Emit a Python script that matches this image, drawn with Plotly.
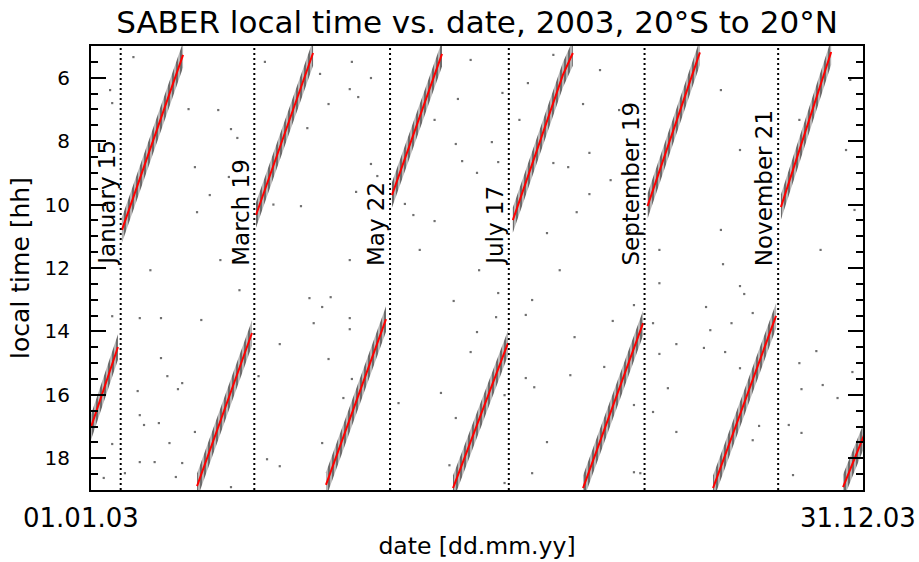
import pandas as pd
import plotly.graph_objects as go

BASE = pd.Timestamp("2003-01-01")

# ---- red traces: day offset from 1 Jan 2003, local time [h] ----
upper_days = [[14.6, 43.4], [77.8, 89.1, 104.7], [141.9, 165.5],
              [198.9, 222.5, 227.2], [262.4, 287.1], [325.3, 349.0]]
upper_lt = [[10.80, 5.28], [10.33, 8.18, 5.22], [9.70, 5.25],
            [10.49, 5.91, 5.22], [10.05, 5.20], [10.08, 5.19]]
lower_days = [[0.0, 12.7], [50.0, 75.9], [110.8, 139.1], [170.7, 196.6],
              [232.0, 260.3], [293.3, 323.0], [354.6, 364.5]]
lower_lt = [[17.02, 14.49], [18.88, 14.05], [18.84, 13.61], [18.94, 14.37],
            [18.94, 13.74], [18.94, 13.51], [18.91, 17.27]]

# ---- x-axis end labels ----
x_ends = ["2003-01-01", "2003-12-31"]
x_end_labels = ["01.01.03", "31.12.03"]

# ---- yaw-cycle marker dates ----
mark_dates = ["2003-01-15", "2003-03-19", "2003-05-22", "2003-07-17",
              "2003-09-19", "2003-11-21"]
mark_labels = ["January 15", "March 19", "May 22", "July 17",
               "September 19", "November 21"]
label_lt = 12.0

# ---- sparse outlier points ----
dot_days = [20, 9, 10, 46, 60, 66, 69, 49, 65, 56, 50, 82, 86,
            10, 23, 33, 52, 33, 36, 43, 22, 41, 23, 32, 25, 49, 37, 10, 23, 30, 43, 16, 40, 6, 66, 89, 79, 83, 89,
            123, 108, 132, 122, 126, 112, 102, 132, 135, 125, 99, 173, 162, 172, 175, 182, 148, 152, 162, 179,
            103, 113, 109, 105, 122, 122, 112, 123, 119, 109, 145,
            171, 192, 208, 191, 205, 182, 179, 205, 209, 165, 195, 172, 215, 169, 208, 195,
            218, 206, 194, 232, 202, 235, 192, 218, 225, 235, 229, 215, 189,
            268, 256, 246, 265, 228, 276, 268, 242, 226, 272, 256, 265, 276, 256, 259,
            298, 306, 308, 290, 312, 302, 292, 289, 299, 334, 306, 335, 342, 359, 345, 352, 315, 329, 335, 312, 331,
            240, 249, 245, 254, 278, 297, 306, 315, 297, 358, 356, 360, 344, 334, 268, 183, 155, 122, 61, 28, 70, 221]
dot_lt = [5.35, 6.39, 6.80, 6.99, 7.02, 7.62, 7.90, 8.82, 9.13, 9.70, 10.24, 5.50, 10.00,
          13.52, 13.58, 13.58, 13.64, 14.84, 15.41, 15.63, 15.88, 15.82, 16.64, 16.89, 16.95, 17.17, 17.52, 17.55,
          18.12, 18.12, 18.15, 18.47, 18.59, 18.62, 18.91, 14.40, 15.41, 18.03, 18.25,
          5.50, 5.88, 6.01, 6.36, 6.61, 6.83, 7.59, 8.72, 9.10, 9.60, 10.05, 6.67, 7.33, 8.09, 8.63, 9.00, 9.98,
          10.33, 10.52, 5.44,
          12.95, 12.92, 13.23, 13.74, 13.58, 13.93, 14.87, 15.50, 16.10, 17.52, 16.26,
          13.04, 12.79, 13.01, 13.55, 13.48, 14.02, 14.65, 15.47, 15.76, 15.94, 16.01, 16.73, 17.49, 18.22, 18.47, 18.78,
          5.28, 6.17, 6.48, 6.83, 7.33, 8.37, 8.66, 8.69, 8.82, 9.67, 10.24, 10.90, 8.03,
          12.48, 13.17, 13.67, 13.74, 14.18, 14.40, 14.71, 15.12, 15.38, 15.79, 16.32, 16.54, 17.17, 18.44, 18.47,
          11.88, 12.57, 12.82, 13.23, 13.42, 13.74, 13.96, 14.52, 14.65, 15.00, 15.16, 15.82, 14.62, 15.28, 15.69,
          16.10, 16.98, 16.95, 17.20, 17.43, 18.53,
          5.76, 7.02, 9.23, 10.80, 7.02, 6.39, 8.28, 9.86, 10.80, 6.07, 8.28, 10.17, 11.43, 7.33, 11.43, 12.07,
          11.43, 11.75, 11.75, 12.07, 12.70, 12.07]

FONT = "DejaVu Sans"
BAND_HALF = 0.40  # half-height of the measurement scatter band [h]


def to_dates(days):
    return [BASE + pd.Timedelta(days=float(d)) for d in days]


fig = go.Figure()

# outlier points
fig.add_trace(go.Scatter(x=to_dates(dot_days), y=dot_lt, mode="markers",
                         marker=dict(size=2.2, color="#707070", symbol="square"),
                         hoverinfo="skip", showlegend=False))

all_days = upper_days + lower_days
all_lt = upper_lt + lower_lt

# scatter band (hatched vertical bars) around each trace
for d, t in zip(all_days, all_lt):
    xs = to_dates(d) + to_dates(d[::-1])
    ys = [v - BAND_HALF for v in t] + [v + BAND_HALF for v in t[::-1]]
    fig.add_trace(go.Scatter(x=xs, y=ys, mode="none", fill="toself",
                             fillcolor="#b0b0b0",
                             fillpattern=dict(shape="|", bgcolor="#b4b4b4", fgcolor="#000000",
                                              size=4, solidity=0.4),
                             hoverinfo="skip", showlegend=False))

# red traces
for d, t in zip(all_days, all_lt):
    fig.add_trace(go.Scatter(x=to_dates(d), y=t, mode="lines",
                             line=dict(color="#ff0000", width=2),
                             hoverinfo="skip", showlegend=False))

# dotted date markers and labels
for md, lab in zip(mark_dates, mark_labels):
    fig.add_shape(type="line", x0=md, x1=md, xref="x", y0=0, y1=1, yref="paper",
                  line=dict(color="black", width=2, dash="2px,3px"))
    fig.add_annotation(x=md, y=label_lt, xref="x", yref="y", text=lab, showarrow=False,
                       textangle=-90, xanchor="right", yanchor="bottom", xshift=1,
                       font=dict(family=FONT, size=23, color="black"))

# x-axis end labels (placed below the axis ends)
for xe, lab, anchor, shift in zip(x_ends, x_end_labels, ["center", "right"], [-10, 55]):
    fig.add_annotation(x=xe, xref="x", y=0, yref="paper", yshift=-28, yanchor="middle",
                       xanchor=anchor, xshift=shift, text=lab, showarrow=False,
                       font=dict(family=FONT, size=26, color="black"))

fig.update_layout(
    width=919, height=562,
    margin=dict(l=91, r=56, t=46, b=72),
    paper_bgcolor="white", plot_bgcolor="white",
    font=dict(family=FONT, color="black"),
    title=dict(text="SABER local time vs. date, 2003, 20°S to 20°N",
               x=0.5, xref="paper", xanchor="center",
               y=1 - 22 / 562, yref="container", yanchor="middle",
               font=dict(family=FONT, size=31, color="black")),
)

fig.update_xaxes(
    type="date", range=x_ends,
    showticklabels=False, ticks="", showgrid=False, zeroline=False, automargin=False,
    showline=True, linecolor="black", linewidth=2, mirror=True,
    title=dict(text="date [dd.mm.yy]", font=dict(family=FONT, size=23.5), standoff=47),
)
fig.update_yaxes(
    range=[19, 5], tickmode="linear", tick0=6, dtick=2,
    ticks="inside", ticklen=15, tickwidth=2, tickcolor="black",
    minor=dict(tick0=5, dtick=0.5, ticks="inside", ticklen=7, tickwidth=1.5, tickcolor="black"),
    showgrid=False, zeroline=False, automargin=False,
    showline=True, linecolor="black", linewidth=2, mirror="allticks",
    tickfont=dict(family=FONT, size=20), ticklabelstandoff=15,
    title=dict(text="local time [hh]", font=dict(family=FONT, size=25), standoff=8),
)

fig.write_html(
    "out.html",
    config={"displayModeBar": False},
    post_script=("document.documentElement.style.margin='0';"
                 "document.body.style.margin='0';"
                 "document.documentElement.style.overflow='hidden';"
                 "document.body.style.overflow='hidden';"),
)
